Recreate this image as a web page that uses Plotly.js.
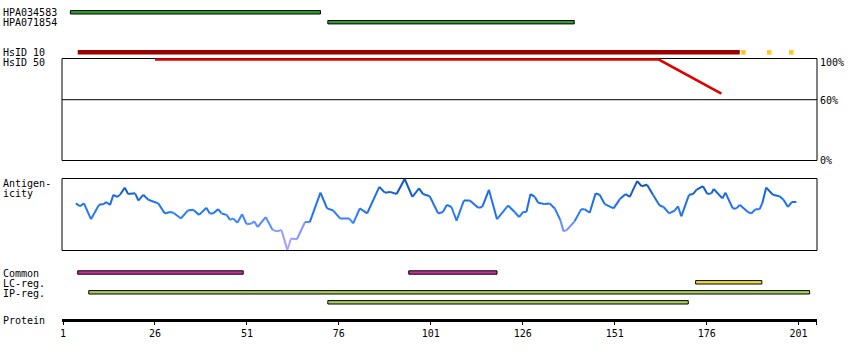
<!DOCTYPE html>
<html><head><meta charset="utf-8">
<script src="https://cdn.plot.ly/plotly-3.0.1.min.js"></script>
<style>html,body{margin:0;padding:0;background:#fff}#chart{width:850px;height:360px}</style>
</head><body><div id="chart"></div>
<script>
// ---------- DATA ----------
const proteinLength = 206;
const tickPositions = [1, 26, 51, 76, 101, 126, 151, 176, 201];

const antibodyNames = ['HPA034583', 'HPA071854'];
const antibodyStart = [3, 73];
const antibodyEnd = [71, 140];

const hsid10Start = [5];
const hsid10End = [185];
const hsid10Partial = [186, 193, 199];

const hsid50Pos = [26, 163, 180];
const hsid50Pct = [100, 100, 66];

const commonStart = [5, 95];
const commonEnd = [50, 119];
const lcStart = [173];
const lcEnd = [191];
const ipStart = [8, 73];
const ipEnd = [204, 171];

const antigenPos = [4.5,5.6,6.7,8.6,10.8,12.1,12.7,13.8,14.7,15.7,
16.5,17.8,18.7,20.6,21.5,22.8,24.2,26.9,28.7,30.1,
31.0,33.1,34.9,36.4,38.0,40.0,40.9,41.8,43.2,44.1,
45.5,46.4,47.3,48.4,49.7,50.9,52.3,53.0,53.9,56.1,
58.0,59.2,60.4,62.0,63.0,64.6,66.8,68.1,71.0,72.8,
74.5,76.3,78.8,79.9,81.7,83.7,87.0,88.5,89.9,91.7,
93.9,96.0,97.8,98.9,100.7,103.0,104.3,105.4,106.6,108.0,
110.0,111.6,113.9,115.0,116.8,119.0,122.0,123.8,125.0,126.1,
127.0,128.1,129.3,130.2,132.0,133.3,134.7,136.2,137.1,138.0,
140.1,141.9,142.8,144.2,145.8,146.9,148.3,150.7,152.4,154.0,
155.1,157.1,158.3,159.8,161.4,163.2,164.3,165.8,167.3,168.2,
169.1,171.2,172.3,173.2,175.0,176.2,177.3,177.9,180.3,181.1,
183.1,184.1,185.0,187.2,188.1,189.3,190.4,191.1,192.2,194.0,
195.8,196.9,198.1,199.2,200.4];
const antigenScore = [6.5,6.1,6.5,4.3,6.3,6.4,6.7,6.3,7.7,7.4,
7.7,8.7,7.8,7.9,6.9,7.7,7.0,6.5,5.1,5.3,
5.2,4.4,5.5,5.6,4.9,5.9,5.1,5.1,5.7,5.1,
4.9,4.2,4.4,3.8,5.0,3.6,3.7,4.0,3.2,4.6,
2.8,2.6,2.8,0.0,1.6,1.5,3.9,3.9,8.0,5.8,
5.5,4.4,4.4,3.7,5.8,5.1,8.8,8.0,8.1,7.8,
9.9,7.4,8.6,7.8,7.5,5.1,5.3,6.3,6.0,4.1,
6.9,6.9,5.9,6.0,8.4,4.3,6.2,5.3,4.6,5.3,
5.3,7.8,7.4,6.6,6.4,6.5,5.8,4.2,2.6,2.8,
4.0,5.7,5.7,5.2,7.9,7.7,6.4,5.8,7.1,7.8,
7.4,9.6,8.9,9.1,7.7,6.2,6.0,5.1,5.5,6.1,
4.7,7.7,7.8,8.4,8.9,7.8,7.9,8.5,7.2,8.0,
5.8,5.8,6.3,5.3,5.1,5.7,5.7,6.5,8.7,7.7,
7.5,7.0,6.0,6.7,6.7];

// ---------- LAYOUT HELPERS ----------
const W = 850, H = 360, L = 62, R = 33;
const plotW = W - L - R;
const px2paperX = px => (px - L) / plotW;
const FONT = {family: 'DejaVu Sans Mono, monospace', size: 10, color: '#000'};

function hexToRgb(h){return [1,3,5].map(i=>parseInt(h.substr(i,2),16));}
const antigenStops = [[0,'#b4aaff'],[1.5,'#9c9cff'],[3,'#7c96ff'],[4,'#4d88ff'],[4.8,'#2c7cfa'],[6,'#1f74ee'],[7.5,'#1a6ae0'],[8.8,'#1158c0'],[10,'#073f85']];
function antigenColor(v){
  for(let i=0;i<antigenStops.length-1;i++){
    const [a,ca]=antigenStops[i],[b,cb]=antigenStops[i+1];
    if(v<=b||i===antigenStops.length-2){
      const t=Math.max(0,Math.min(1,(v-a)/(b-a)));
      const A=hexToRgb(ca),B=hexToRgb(cb);
      return 'rgb('+A.map((c,k)=>Math.round(c+(B[k]-c)*t)).join(',')+')';
    }
  }
}

function barTrace(starts, ends, rows, color, width, outline){
  return {type:'bar', orientation:'h', base:starts, x:ends.map((e,i)=>e-starts[i]),
    y:rows, width:starts.map(()=>width), xaxis:'x', yaxis:'y',
    marker:{color:color, line:{color:'#000', width: outline?1:0}}, hoverinfo:'skip'};
}

const traces = [];
// antibodies (one row each)
traces.push(barTrace(antibodyStart, antibodyEnd, [12.3, 22.2], '#2e9e2e', 3.4, true));
// HsID 10
traces.push(barTrace(hsid10Start, hsid10End, [52.3], '#990000', 4.4, false));
traces.push({type:'scatter', mode:'markers', x:hsid10Partial, y:hsid10Partial.map(()=>52.4),
  xaxis:'x', yaxis:'y', marker:{symbol:'square', size:4.6, color:'#ffc825', line:{width:0}}, hoverinfo:'skip'});
// HsID 50 identity line
traces.push({type:'scatter', mode:'lines', x:hsid50Pos, y:hsid50Pct, xaxis:'x', yaxis:'y3',
  line:{color:'#e00000', width:2.6}, hoverinfo:'skip'});
// antigenicity, segment by segment coloured by score
for(let i=0;i<antigenPos.length-1;i++){
  traces.push({type:'scatter', mode:'lines', x:[antigenPos[i],antigenPos[i+1]], y:[antigenScore[i],antigenScore[i+1]],
    xaxis:'x', yaxis:'y2', line:{color:antigenColor((antigenScore[i]+antigenScore[i+1])/2), width:2}, hoverinfo:'skip'});
}
// bottom regions
traces.push(barTrace(commonStart, commonEnd, commonStart.map(()=>272.5), '#c8309f', 3.4, true));
traces.push(barTrace(lcStart, lcEnd, lcStart.map(()=>282.3), '#f0dc3c', 3.4, true));
traces.push(barTrace(ipStart, ipEnd, ipStart.map((_,i)=>292.3+i*10), '#a8cc5c', 3.4, true));

const leftLabels = [['HPA034583',12.6],['HPA071854',22.8],['HsID 10',52.8],['HsID 50',62.6],
  ['Antigen-',183],['icity',193],['Common',273],['LC-reg.',283],['IP-reg.',293],['Protein',320.3]];
const rightLabels = [['100%',62.6],['60%',100.6],['0%',160.3]];
const annotations = [];
leftLabels.forEach(([t,y])=>annotations.push({text:t, xref:'paper', yref:'y', x:px2paperX(2), y:y,
  xanchor:'left', yanchor:'middle', showarrow:false, font:FONT, borderpad:0}));
rightLabels.forEach(([t,y])=>annotations.push({text:t, xref:'paper', yref:'y', x:px2paperX(819), y:y,
  xanchor:'left', yanchor:'middle', showarrow:false, font:FONT, borderpad:0}));

const shapes = [
  {type:'rect', xref:'paper', yref:'y', x0:0, x1:1, y0:58.5, y1:160.5, line:{color:'#000', width:1}, layer:'below'},
  {type:'line', xref:'paper', yref:'y3', x0:0, x1:1, y0:60, y1:60, line:{color:'#000', width:1}, layer:'below'},
  {type:'rect', xref:'paper', yref:'y', x0:0, x1:1, y0:178.5, y1:250.5, line:{color:'#000', width:1}, layer:'below'}
];

const layout = {
  width:W, height:H, margin:{l:L, r:R, t:0, b:0, pad:0},
  paper_bgcolor:'#fff', plot_bgcolor:'rgba(0,0,0,0)', showlegend:false, barmode:'overlay',
  font:FONT,
  xaxis:{domain:[0,1], range:[1-1/3.68, proteinLength], anchor:'free', position:(H-320)/H,
    showline:true, linewidth:3, linecolor:'#000', ticks:'outside', ticklen:3, tickwidth:1, tickcolor:'#000',
    tickvals:tickPositions.concat([proteinLength-0.1]), ticktext:tickPositions.map(String).concat(['']),
    showgrid:false, zeroline:false, tickfont:FONT, fixedrange:true},
  yaxis:{domain:[0,1], range:[H,0], visible:false, fixedrange:true},
  yaxis2:{domain:[0.28,0.53], range:[-(259.2-250)/7.17, (250-169.2)/7.17], visible:false, anchor:'x', fixedrange:true},
  yaxis3:{domain:[0.5,0.9], range:[(160-180)/1.005, (160-36)/1.005], visible:false, anchor:'x', fixedrange:true},
  annotations:annotations, shapes:shapes
};
Plotly.newPlot('chart', traces, layout, {staticPlot:true, displayModeBar:false});
</script></body></html>
